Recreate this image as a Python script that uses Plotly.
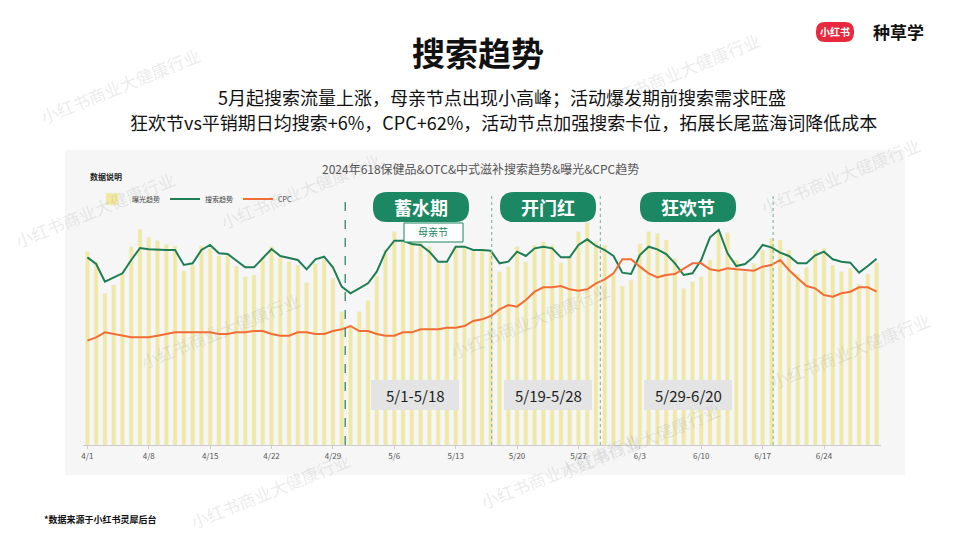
import plotly.graph_objects as go

# daily values, 4/1 .. 6/30 (arbitrary units)
dates = ["4/1", "4/8", "4/15", "4/22", "4/29", "5/6", "5/13", "5/20", "5/27", "6/3", "6/10", "6/17", "6/24"]
bar_top = [305, 335, 430, 405, 370, 290, 238, 262, 272, 283, 288, 362, 345, 288, 295, 318, 315, 348, 380, 375,
           320, 290, 322, 335, 345, 398, 340, 330, 385, 485, 525, 485, 452, 378, 298, 245, 270, 255, 260, 290,
           340, 340, 288, 290, 300, 300, 305, 365, 350, 290, 335, 285, 275, 285, 338, 320, 245, 218, 275, 285,
           375, 408, 390, 282, 245, 250, 270, 325, 415, 395, 380, 330, 245, 248, 330, 365, 340, 300, 265, 270,
           300, 372, 352, 300, 295, 345, 365, 355, 402, 372, 338]
search_top = [322, 342, 395, 383, 370, 330, 294, 298, 300, 300, 300, 345, 340, 300, 285, 310, 312, 332, 352, 352,
              325, 297, 318, 324, 330, 358, 328, 320, 352, 410, 430, 415, 400, 365, 305, 272, 272, 282, 285, 305,
              335, 335, 290, 290, 300, 300, 302, 340, 335, 305, 318, 295, 290, 295, 322, 322, 285, 268, 288, 300,
              318, 368, 372, 315, 290, 298, 312, 340, 375, 370, 330, 262, 240, 310, 348, 342, 320, 285, 292, 308,
              318, 340, 340, 316, 305, 328, 335, 338, 368, 348, 326]
cpc_top = [572, 562, 547, 552, 557, 562, 562, 562, 557, 552, 547, 547, 547, 547, 547, 552, 552, 547, 547, 543,
           543, 552, 557, 557, 547, 547, 552, 552, 543, 538, 528, 543, 543, 552, 557, 557, 547, 547, 538, 538,
           538, 533, 533, 528, 513, 508, 498, 478, 465, 470, 450, 425, 412, 412, 408, 418, 422, 418, 400, 388,
           370, 328, 328, 350, 370, 382, 375, 372, 355, 340, 340, 358, 362, 355, 358, 360, 362, 350, 345, 330,
           360, 385, 408, 415, 435, 440, 430, 425, 412, 412, 425]

BASE = 885
bars = [BASE - v for v in bar_top]
search = [BASE - v for v in search_top]
cpc = [BASE - v for v in cpc_top]
days = list(range(len(bars)))

GREEN = "#1b8763"
W, H = 960, 540
px = lambda x: x / W
py = lambda y: 1 - y / H

fig = go.Figure()
fig.add_trace(go.Bar(x=days, y=bars, name="曝光趋势", marker_color="#f2e99c", width=0.45))
fig.add_trace(go.Scatter(x=days, y=search, name="搜索趋势", mode="lines", line=dict(color="#1e7d55", width=2)))
fig.add_trace(go.Scatter(x=days, y=cpc, name="CPC", mode="lines", line=dict(color="#f26d35", width=2)))

shapes = [dict(type="rect", xref="paper", yref="paper", x0=px(65), x1=px(905), y0=py(475), y1=py(150),
               fillcolor="#f6f6f6", line_width=0, layer="below")]
# phase separators
for d, col, dash in [(29.4, "#1e7d55", "dash"), (46.1, "#8fb8a5", "dot"), (58.5, "#8fb8a5", "dot"), (78.2, "#8fb8a5", "dot")]:
    shapes.append(dict(type="line", xref="x", yref="paper", x0=d, x1=d, y0=py(445), y1=py(195),
                       line=dict(color=col, width=1.2, dash=dash)))


def pill(cx, cy, w, h, r):
    x0, x1, y0, y1 = cx - w / 2, cx + w / 2, cy - h / 2, cy + h / 2
    pts = (f"M {px(x0 + r)} {py(y0)} L {px(x1 - r)} {py(y0)} Q {px(x1)} {py(y0)} {px(x1)} {py(y0 + r)} "
           f"L {px(x1)} {py(y1 - r)} Q {px(x1)} {py(y1)} {px(x1 - r)} {py(y1)} L {px(x0 + r)} {py(y1)} "
           f"Q {px(x0)} {py(y1)} {px(x0)} {py(y1 - r)} L {px(x0)} {py(y0 + r)} Q {px(x0)} {py(y0)} {px(x0 + r)} {py(y0)} Z")
    return pts


def note(x, y, text, size, color="#111", xanchor="center", angle=0):
    return dict(x=px(x), y=py(y), xref="paper", yref="paper", text=text, showarrow=False,
                xanchor=xanchor, yanchor="middle", textangle=angle, font=dict(size=size, color=color))


annotations = []
for cx, label in [(421, "蓄水期"), (548, "开门红"), (688, "狂欢节")]:
    shapes.append(dict(type="path", xref="paper", yref="paper", path=pill(cx, 207, 96, 30, 14),
                       fillcolor=GREEN, line_width=0))
    annotations.append(note(cx, 207, f"<b>{label}</b>", 18, "white"))
for cx, label in [(415, "5/1-5/18"), (548, "5/19-5/28"), (688, "5/29-6/20")]:
    shapes.append(dict(type="rect", xref="paper", yref="paper", x0=px(cx - 44), x1=px(cx + 44),
                       y0=py(410), y1=py(380), fillcolor="#e4e4e4", line_width=0))
    annotations.append(note(cx, 395, label, 15, "#222"))
# 母亲节 tag
shapes.append(dict(type="rect", xref="paper", yref="paper", x0=px(404), x1=px(463), y0=py(242), y1=py(223),
                   fillcolor="white", line=dict(color=GREEN, width=1)))
annotations.append(note(433, 232, "母亲节", 10, GREEN))

# logo
shapes.append(dict(type="path", xref="paper", yref="paper", path=pill(835, 32, 38, 20, 9),
                   fillcolor="#e8283c", line_width=0))
annotations += [
    note(835, 32, "<b>小红书</b>", 10, "white"),
    note(898, 32, "<b>种草学</b>", 17),
    note(478, 52, "<b>搜索趋势</b>", 33),
    note(502, 97, "5月起搜索流量上涨，母亲节点出现小高峰；活动爆发期前搜索需求旺盛", 18),
    note(503, 122, "狂欢节vs平销期日均搜索+6%，CPC+62%，活动节点加强搜索卡位，拓展长尾蓝海词降低成本", 18),
    note(480, 168, "2024年618保健品&OTC&中式滋补搜索趋势&曝光&CPC趋势", 12, "#555"),
    note(88, 177, "<b>数据说明</b>", 8, "#222", "left"),
    note(42, 519, "<b>*数据来源于小红书灵犀后台</b>", 9, "#111", "left"),
]
# watermarks
for x, y in [(120, 85), (680, 70), (840, 175), (95, 210), (220, 330), (530, 320), (300, 190),
             (640, 440), (850, 350), (270, 490), (560, 470)]:
    annotations.append(note(x, y, "小红书商业大健康行业", 17, "rgba(150,150,150,0.2)", angle=-22))

fig.update_layout(
    width=W, height=H, margin=dict(l=0, r=0, t=0, b=0, autoexpand=False),
    paper_bgcolor="white", plot_bgcolor="rgba(0,0,0,0)",
    font=dict(family="Noto Sans CJK SC"),
    shapes=shapes, annotations=annotations, bargap=0.5,
    showlegend=True,
    legend=dict(orientation="h", x=px(92), y=py(199), yanchor="middle", xanchor="left",
                font=dict(size=7, color="#444"), bgcolor="rgba(0,0,0,0)", itemwidth=30),
    xaxis=dict(domain=[px(83), px(881)], range=[-0.5, 90.5], tickvals=list(range(0, 91, 7)), ticktext=dates,
               showgrid=False, showline=True, linecolor="#ccc", ticks="outside", ticklen=3, tickcolor="#ccc",
               tickfont=dict(size=8, color="#555"), zeroline=False),
    yaxis=dict(domain=[py(445), py(160)], range=[0, 855], visible=False),
)
fig.write_html("out.html", config={"displayModeBar": False},
               post_script="document.body.style.margin='0';")
